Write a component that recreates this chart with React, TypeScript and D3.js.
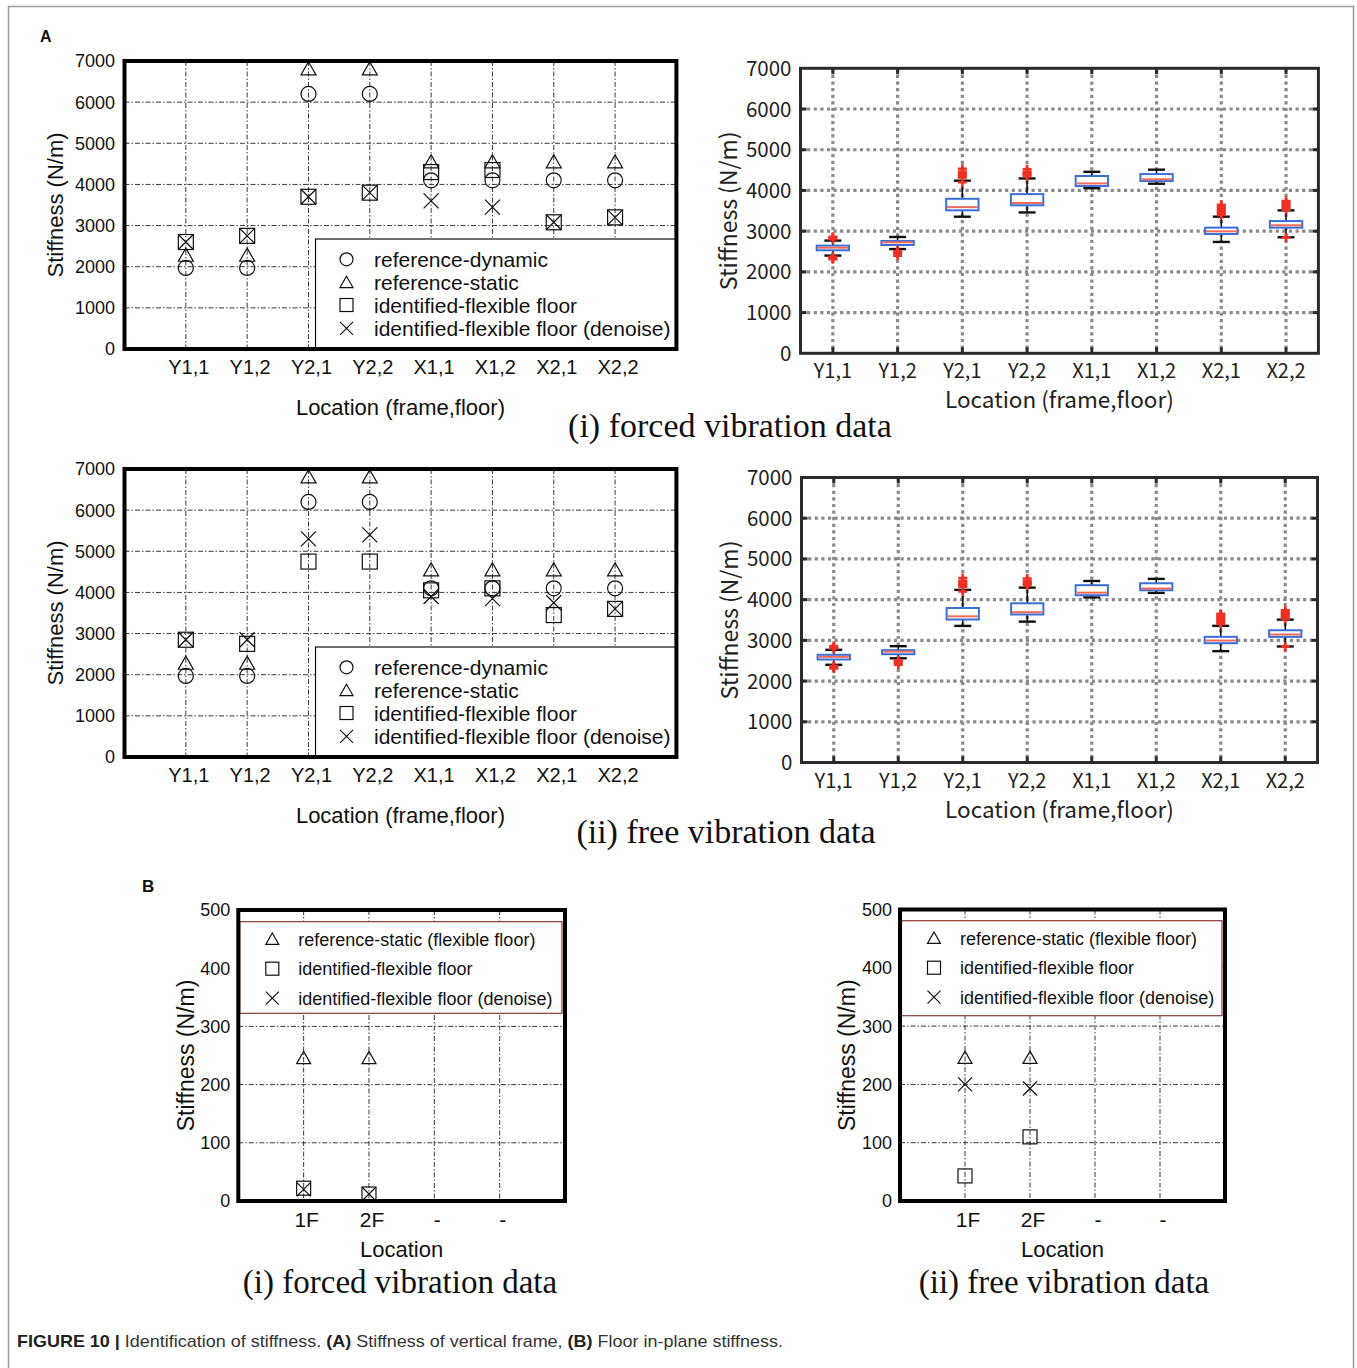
import React from 'react';
import * as d3 from 'd3';

// ---------- data ----------
const stiffCats = ['Y1,1', 'Y1,2', 'Y2,1', 'Y2,2', 'X1,1', 'X1,2', 'X2,1', 'X2,2'];
const stiffTicks = [0, 1000, 2000, 3000, 4000, 5000, 6000, 7000];

const refDynamic = [1970, 1970, 6200, 6200, 4100, 4100, 4100, 4100];
const refStatic = [2270, 2270, 6800, 6800, 4540, 4540, 4540, 4540];
const forcedIdentified = [2600, 2750, 3700, 3800, 4300, 4350, 3080, 3200];
const forcedDenoise = [2600, 2750, 3700, 3800, 3600, 3450, 3080, 3200];
const freeIdentified = [2850, 2750, 4750, 4750, 4050, 4100, 3450, 3600];
const freeDenoise = [2850, 2850, 5300, 5400, 3900, 3850, 3750, 3600];

const boxLowerWhisker = [2400, 2560, 3355, 3460, 4055, 4165, 2735, 2850];
const boxQ1 = [2530, 2660, 3512, 3635, 4108, 4230, 2930, 3086];
const boxMedian = [2595, 2725, 3590, 3692, 4172, 4273, 2995, 3144];
const boxQ3 = [2645, 2760, 3795, 3910, 4355, 4402, 3086, 3248];
const boxUpperWhisker = [2768, 2857, 4240, 4295, 4458, 4510, 3356, 3510];
const boxOutliers = [
  [2800, 2830, 2860, 2310, 2340, 2370],
  [2510, 2480, 2450, 2400],
  [4200, 4320, 4360, 4390, 4420, 4460, 4530],
  [4350, 4390, 4420, 4460, 4520],
  [],
  [],
  [3400, 3440, 3480, 3520, 3560, 3600, 3650],
  [3530, 3580, 3620, 3660, 3700, 3740, 2845],
];

const floorCats = ['1F', '2F', '-', '-'];
const floorTicks = [0, 100, 200, 300, 400, 500];
const floorRefStatic = [245, 245];
const forcedFloorIdentified = [22, 12];
const forcedFloorDenoise = [20, 12];
const freeFloorIdentified = [43, 110];
const freeFloorDenoise = [200, 193];

const stiffLegend = ['reference-dynamic', 'reference-static', 'identified-flexible floor', 'identified-flexible floor (denoise)'];
const floorLegend = ['reference-static (flexible floor)', 'identified-flexible floor', 'identified-flexible floor (denoise)'];

// ---------- styles ----------
const SANS = 'Arial, "Liberation Sans", Helvetica, sans-serif';
const GOTHIC = '"Noto Sans CJK JP", "Noto Sans", sans-serif';
const SERIF = '"Liberation Serif", "Times New Roman", serif';

type MType = 'circle' | 'triangle' | 'square' | 'cross';

function Marker({ type, x, y, s = 7, sw = 1.2 }: { type: MType; x: number; y: number; s?: number; sw?: number }) {
  const st = { fill: 'none', stroke: '#111', strokeWidth: sw };
  if (type === 'circle') return <circle cx={x} cy={y} r={s} {...st} />;
  if (type === 'triangle')
    return <path d={`M${x},${y - s}L${x + s},${y + s * 0.75}L${x - s},${y + s * 0.75}Z`} {...st} />;
  if (type === 'square') return <rect x={x - s} y={y - s} width={2 * s} height={2 * s} {...st} />;
  return <path d={`M${x - s},${y - s}L${x + s},${y + s}M${x - s},${y + s}L${x + s},${y - s}`} {...st} />;
}

interface Series { type: MType; values: number[] }
interface LegendSpec {
  x0: number; x1: number; y0: number; y1: number; mx: number; tx: number; rows: number[];
  fs: number; stroke: string; types: MType[]; labels: string[]; ms: number;
}
interface ScatterProps {
  L: number; R: number; T: number; B: number; yMax: number; ticks: number[]; cats: string[];
  series: Series[]; legend: LegendSpec;
  yTickX: number; yTickFs: number; xTickY: number; xTickFs: number; xTickDx: number;
  yTitleX: number; yTitleFs: number; xTitle: string; xTitleY: number; xTitleFs: number; ms: number;
}

function ScatterPanel(p: ScatterProps) {
  const x = d3.scaleLinear().domain([0, p.cats.length + 1]).range([p.L, p.R]);
  const y = d3.scaleLinear().domain([0, p.yMax]).range([p.B, p.T]);
  const grid = '#3a3a3a';
  const dash = '5,2,1.5,2';
  const lg = p.legend;
  return (
    <g>
      {p.ticks.filter(t => t > 0 && t < p.yMax).map(t => (
        <line key={'h' + t} x1={p.L} x2={p.R} y1={y(t)} y2={y(t)} stroke={grid} strokeWidth={1} strokeDasharray={dash} />
      ))}
      {p.cats.map((c, i) => (
        <line key={'v' + i} x1={x(i + 1)} x2={x(i + 1)} y1={p.T} y2={p.B} stroke={grid} strokeWidth={1} strokeDasharray={dash} />
      ))}
      <rect x={lg.x0} y={lg.y0} width={lg.x1 - lg.x0} height={lg.y1 - lg.y0} fill="#fff" stroke={lg.stroke} strokeWidth={1.2} />
      {lg.labels.map((lab, i) => (
        <g key={'lg' + i}>
          <Marker type={lg.types[i]} x={lg.mx} y={lg.rows[i]} s={lg.ms} />
          <text x={lg.tx} y={lg.rows[i] + lg.fs * 0.36} fontSize={lg.fs} fontFamily={SANS} fill="#111">{lab}</text>
        </g>
      ))}
      {p.series.map((s, si) =>
        s.values.map((v, i) => <Marker key={'m' + si + '-' + i} type={s.type} x={x(i + 1)} y={y(v)} s={p.ms} />)
      )}
      <rect x={p.L} y={p.T} width={p.R - p.L} height={p.B - p.T} fill="none" stroke="#000" strokeWidth={4} />
      {p.ticks.map(t => (
        <text key={'yt' + t} x={p.yTickX} y={y(t) + p.yTickFs * 0.36} textAnchor="end" fontSize={p.yTickFs} fontFamily={SANS} fill="#111">{t}</text>
      ))}
      {p.cats.map((c, i) => (
        <text key={'xt' + i} x={x(i + 1) + p.xTickDx} y={p.xTickY + p.xTickFs * 0.36} textAnchor="middle" fontSize={p.xTickFs} fontFamily={SANS} fill="#111">{c}</text>
      ))}
      <text transform={`translate(${p.yTitleX},${(p.T + p.B) / 2}) rotate(-90)`} y={p.yTitleFs * 0.36} textAnchor="middle" fontSize={p.yTitleFs} fontFamily={SANS} fill="#111">Stiffness (N/m)</text>
      <text x={(p.L + p.R) / 2} y={p.xTitleY + p.xTitleFs * 0.36} textAnchor="middle" fontSize={p.xTitleFs} fontFamily={SANS} fill="#111">{p.xTitle}</text>
    </g>
  );
}

function BoxPanel({ L, R, T, B }: { L: number; R: number; T: number; B: number }) {
  const x = d3.scaleBand<string>().domain(stiffCats).range([L, R]);
  const y = d3.scaleLinear().domain([0, 7000]).range([B, T]);
  const cx = (c: string) => (x(c) as number) + x.bandwidth() / 2;
  const bw = x.bandwidth() * 0.5;
  const cap = 17;
  const grid = '#8a8a8a';
  const dash = '3.2,3.4';
  return (
    <g>
      {stiffTicks.filter(t => t > 0 && t < 7000).map(t => (
        <line key={'h' + t} x1={L} x2={R} y1={y(t)} y2={y(t)} stroke={grid} strokeWidth={3.2} strokeDasharray={dash} />
      ))}
      {stiffCats.map(c => (
        <line key={'v' + c} x1={cx(c)} x2={cx(c)} y1={T} y2={B} stroke={grid} strokeWidth={3.2} strokeDasharray={dash} />
      ))}
      {stiffCats.map((c, i) => {
        const X = cx(c);
        return (
          <g key={'b' + c}>
            <line x1={X} x2={X} y1={y(boxQ3[i])} y2={y(boxUpperWhisker[i])} stroke="#111" strokeWidth={1.6} />
            <line x1={X} x2={X} y1={y(boxQ1[i])} y2={y(boxLowerWhisker[i])} stroke="#111" strokeWidth={1.6} />
            <line x1={X - cap / 2} x2={X + cap / 2} y1={y(boxUpperWhisker[i])} y2={y(boxUpperWhisker[i])} stroke="#111" strokeWidth={2.4} />
            <line x1={X - cap / 2} x2={X + cap / 2} y1={y(boxLowerWhisker[i])} y2={y(boxLowerWhisker[i])} stroke="#111" strokeWidth={2.4} />
            <rect x={X - bw / 2} y={y(boxQ3[i])} width={bw} height={y(boxQ1[i]) - y(boxQ3[i])} fill="#fff" stroke="#3b6fd6" strokeWidth={2} />
            <line x1={X - bw / 2 + 1} x2={X + bw / 2 - 1} y1={y(boxMedian[i])} y2={y(boxMedian[i])} stroke="#f26a5a" strokeWidth={2} />
            {boxOutliers[i].map((o, j) => (
              <path key={j} d={`M${X - 4.5},${y(o)}H${X + 4.5}M${X},${y(o) - 4.5}V${y(o) + 4.5}`} stroke="#ee3124" strokeWidth={2.6} fill="none" />
            ))}
          </g>
        );
      })}
      <rect x={L} y={T} width={R - L} height={B - T} fill="none" stroke="#2b2b2b" strokeWidth={3} />
      {stiffTicks.filter(t => t > 0 && t < 7000).map(t => (
        <g key={'tk' + t}>
          <line x1={L} x2={L + 6} y1={y(t)} y2={y(t)} stroke="#2b2b2b" strokeWidth={3} />
          <line x1={R} x2={R - 6} y1={y(t)} y2={y(t)} stroke="#2b2b2b" strokeWidth={3} />
        </g>
      ))}
      {stiffCats.map(c => (
        <g key={'tc' + c}>
          <line x1={cx(c)} x2={cx(c)} y1={T} y2={T + 6} stroke="#2b2b2b" strokeWidth={3} />
          <line x1={cx(c)} x2={cx(c)} y1={B} y2={B - 6} stroke="#2b2b2b" strokeWidth={3} />
        </g>
      ))}
      {stiffTicks.map(t => (
        <text key={'yl' + t} x={L - 9} y={y(t) + 7.5} textAnchor="end" fontSize={20.5} fontFamily={GOTHIC} fill="#222">{t}</text>
      ))}
      {stiffCats.map(c => (
        <text key={'xl' + c} x={cx(c)} y={B + 25} textAnchor="middle" fontSize={20} fontFamily={GOTHIC} fill="#222">{c}</text>
      ))}
      <text transform={`translate(${L - 72},${(T + B) / 2}) rotate(-90)`} y={8} textAnchor="middle" fontSize={23} fontFamily={GOTHIC} fill="#222">Stiffness (N/m)</text>
      <text x={(L + R) / 2} y={B + 55} textAnchor="middle" fontSize={22.5} fontFamily={GOTHIC} fill="#222">Location (frame,floor)</text>
    </g>
  );
}

const stiffTypes: MType[] = ['circle', 'triangle', 'square', 'cross'];
const floorTypes: MType[] = ['triangle', 'square', 'cross'];

function stiffPanel(top: number, identified: number[], denoise: number[]) {
  const off = top - 61;
  return (
    <ScatterPanel
      L={124.5} R={676.4} T={61 + off} B={349 + off} yMax={7000} ticks={stiffTicks} cats={stiffCats}
      series={[
        { type: 'circle', values: refDynamic },
        { type: 'triangle', values: refStatic },
        { type: 'square', values: identified },
        { type: 'cross', values: denoise },
      ]}
      legend={{
        x0: 315.5, x1: 676.4, y0: 239 + off, y1: 349 + off, mx: 346.5, tx: 374,
        rows: [259.3 + off, 282.7 + off, 305 + off, 328.3 + off], fs: 21, stroke: '#111',
        types: stiffTypes, labels: stiffLegend, ms: 6.5,
      }}
      yTickX={115} yTickFs={18} xTickY={367 + off} xTickFs={20} xTickDx={3}
      yTitleX={55} yTitleFs={22} xTitle="Location (frame,floor)" xTitleY={407 + off} xTitleFs={22} ms={7.5}
    />
  );
}

function floorPanel(L: number, R: number, T: number, identified: number[], denoise: number[], legendTop: number, legendBottom: number, legendRight: number) {
  const mx = L + 34;
  return (
    <ScatterPanel
      L={L} R={R} T={T} B={1201} yMax={500} ticks={floorTicks} cats={floorCats}
      series={[
        { type: 'triangle', values: floorRefStatic },
        { type: 'square', values: identified },
        { type: 'cross', values: denoise },
      ]}
      legend={{
        x0: L + 1.5, x1: legendRight, y0: legendTop, y1: legendBottom, mx: mx, tx: L + 60,
        rows: [legendTop + 17.8, legendTop + 47, legendTop + 76.5], fs: 18, stroke: '#8a3b2e',
        types: floorTypes, labels: floorLegend, ms: 6.5,
      }}
      yTickX={L - 8} yTickFs={18} xTickY={1219} xTickFs={21} xTickDx={3}
      yTitleX={L - 53} yTitleFs={23} xTitle="Location" xTitleY={1249} xTitleFs={22} ms={7}
    />
  );
}

export default function App() {
  const W = 1357;
  const H = 1368;
  return (
    <svg width={W} height={H} viewBox={`0 0 ${W} ${H}`} style={{ position: 'absolute', left: 0, top: 0, display: 'block', background: '#fff' }}>
      <rect x={0} y={0} width={W} height={H} fill="#fff" />
      <path d={`M8.5,${H}V6.5H1353.5V${H}`} fill="none" stroke="#9a9a9a" strokeWidth={1.5} />
      <text x={40} y={42} fontSize={16} fontWeight="bold" fontFamily={SANS} fill="#111">A</text>
      <text x={142} y={892} fontSize={17} fontWeight="bold" fontFamily={SANS} fill="#111">B</text>

      {stiffPanel(61, forcedIdentified, forcedDenoise)}
      <BoxPanel L={800.5} R={1318.4} T={68.3} B={353.3} />
      <text x={730} y={437} textAnchor="middle" fontSize={34} fontFamily={SERIF} fill="#111">(i) forced vibration data</text>

      {stiffPanel(469, freeIdentified, freeDenoise)}
      <BoxPanel L={801.5} R={1317.5} T={477.5} B={762.5} />
      <text x={726} y={843} textAnchor="middle" fontSize={34} fontFamily={SERIF} fill="#111">(ii) free vibration data</text>

      {floorPanel(238.3, 565, 910, forcedFloorIdentified, forcedFloorDenoise, 921.7, 1013.3, 562)}
      <text x={400} y={1293} textAnchor="middle" fontSize={33} fontFamily={SERIF} fill="#111">(i) forced vibration data</text>

      {floorPanel(900, 1225, 909.5, freeFloorIdentified, freeFloorDenoise, 920.7, 1015.7, 1222)}
      <text x={1064} y={1293} textAnchor="middle" fontSize={33} fontFamily={SERIF} fill="#111">(ii) free vibration data</text>

      <text x={17} y={1347} fontSize={17} fontFamily={SANS} fill="#333" textLength={766} lengthAdjust="spacingAndGlyphs">
        <tspan fontWeight="bold" fill="#222">FIGURE 10 | </tspan>
        <tspan>Identification of stiffness. </tspan>
        <tspan fontWeight="bold" fill="#222">(A)</tspan>
        <tspan> Stiffness of vertical frame, </tspan>
        <tspan fontWeight="bold" fill="#222">(B)</tspan>
        <tspan> Floor in-plane stiffness.</tspan>
      </text>
    </svg>
  );
}
